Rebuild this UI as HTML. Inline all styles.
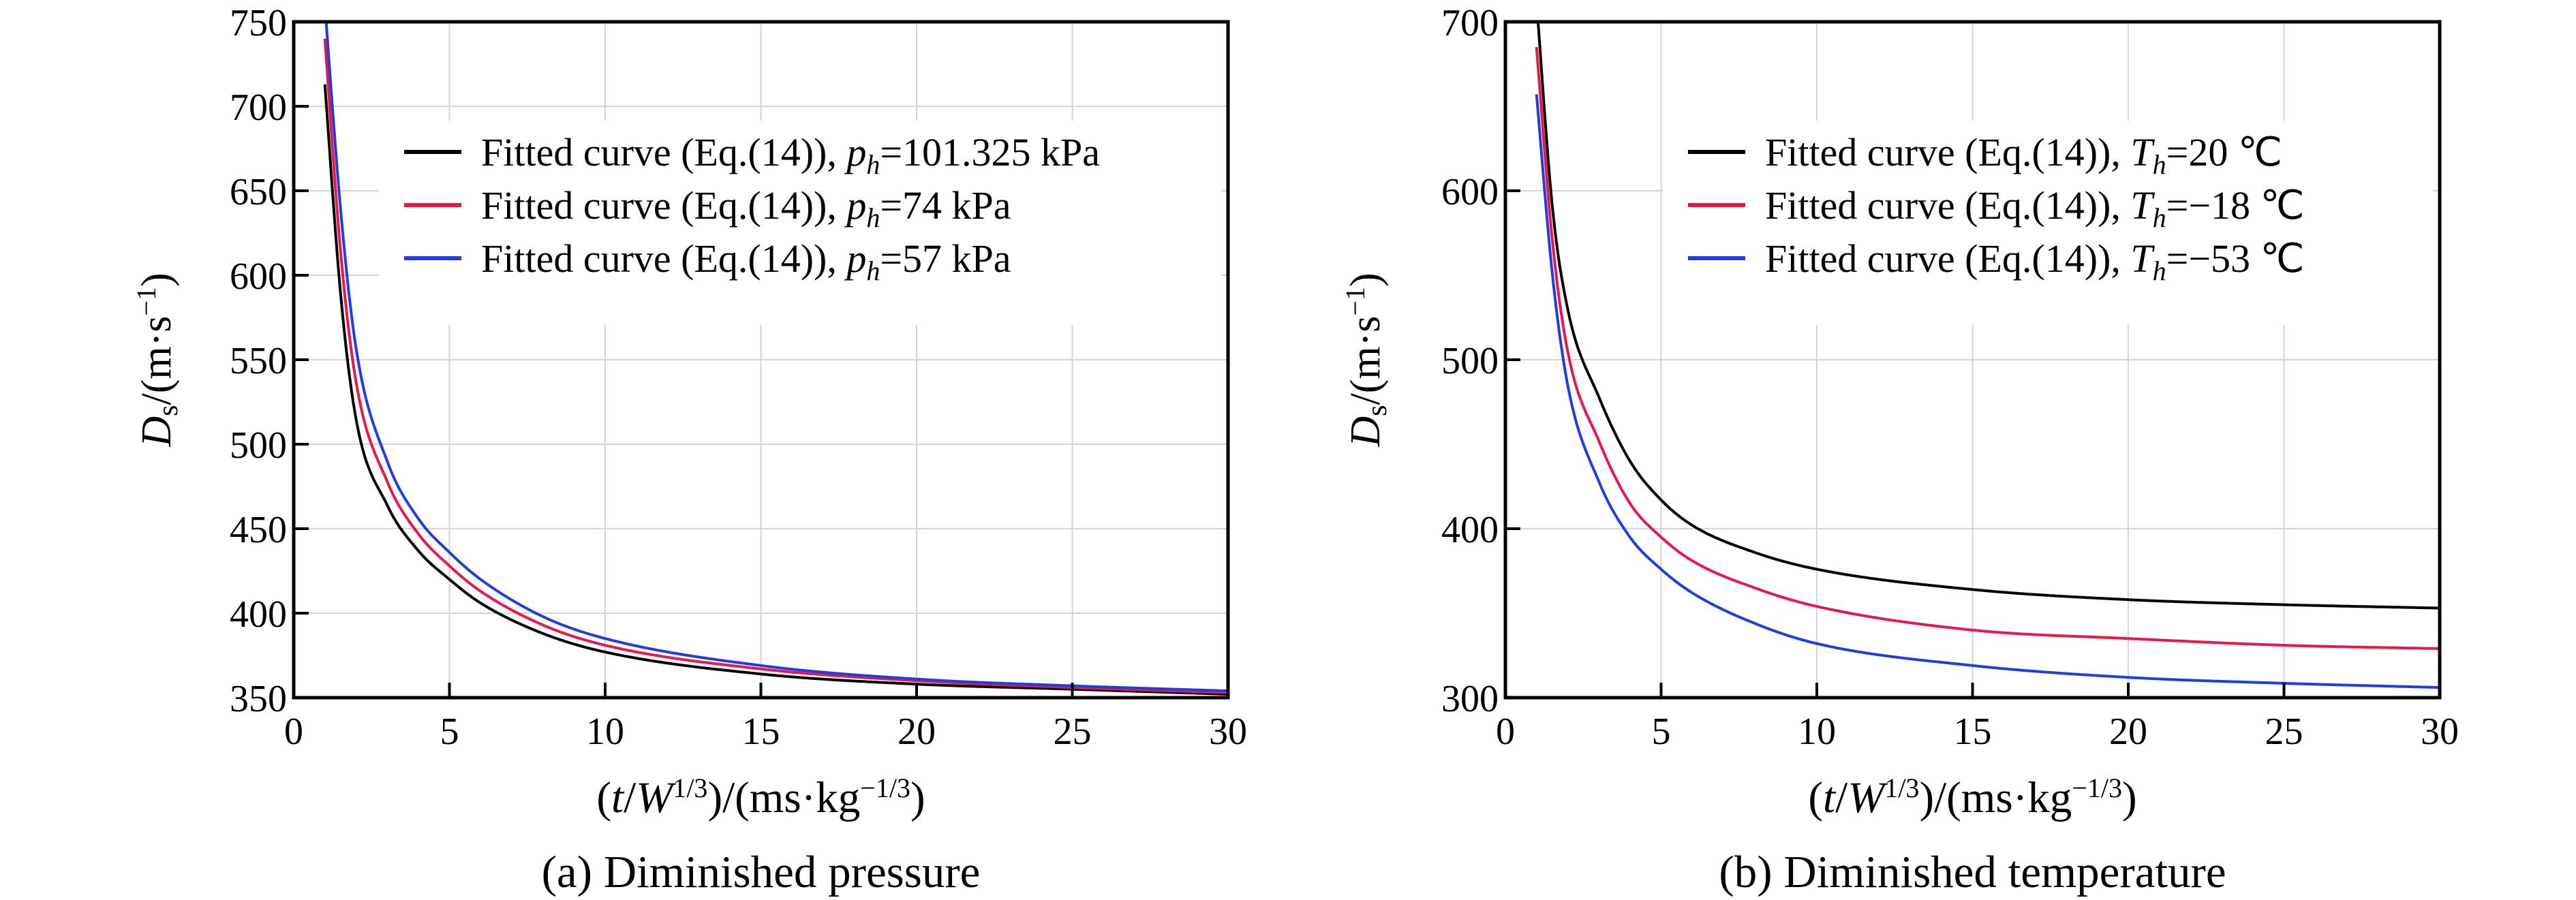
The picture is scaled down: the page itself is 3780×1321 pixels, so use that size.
<!DOCTYPE html>
<html><head><meta charset="utf-8">
<style>
html,body{margin:0;padding:0;background:#fff;}
svg{display:block;font-family:"Liberation Serif",serif;}
</style></head>
<body>
<svg id="fig" width="3780" height="1321" viewBox="0 0 3780 1321" xmlns="http://www.w3.org/2000/svg"></svg>
<script>
// ---- data ----
const xTicks = [0,5,10,15,20,25,30];
const yTicksA = [350,400,450,500,550,600,650,700,750];
const yTicksB = [300,400,500,600,700];
const xs = [1,1.5,2,3,4,5,6,8,10,15,20,25,30];
const pBlack = [713,590,515,464,437,420,406,388,377,364,358,355,352];
const pRed   = [740,615,537,478,447,428,413,393,381,367,360,356,353];
const pBlue  = [760,640,557,490,456,436,420,398,385,369,361,357,354];
const tBlack = [712,592,530,478,440,417,402,386,376,364,358,355,353];
const tRed   = [685,572,505,452,415,395,381,365,354,340,335,331,329];
const tBlue  = [657,552,485,428,395,376,362,344,332,319,312,308.5,306];
const legendA = ["=101.325 kPa","=74 kPa","=57 kPa"];
const legendB = ["=20 ℃","=\u221218 ℃","=\u221253 ℃"];
const colors = ["#000000","#e8194a","#1f3de0"];

const NS="http://www.w3.org/2000/svg";
const svg=document.getElementById('fig');
function el(tag,attrs,parent){const e=document.createElementNS(NS,tag);for(const k in attrs)e.setAttribute(k,attrs[k]);(parent||svg).appendChild(e);return e;}

// monotone cubic (Fritsch-Carlson) evaluator
function monotone(X,Y){
  const n=X.length,d=[],m=new Array(n);
  for(let i=0;i<n-1;i++)d.push((Y[i+1]-Y[i])/(X[i+1]-X[i]));
  m[0]=d[0];m[n-1]=d[n-2];
  for(let i=1;i<n-1;i++){m[i]=(d[i-1]*d[i]<=0)?0:(d[i-1]+d[i])/2;}
  for(let i=0;i<n-1;i++){
    if(d[i]===0){m[i]=0;m[i+1]=0;continue;}
    const a=m[i]/d[i],b=m[i+1]/d[i],s=a*a+b*b;
    if(s>9){const t=3/Math.sqrt(s);m[i]=t*a*d[i];m[i+1]=t*b*d[i];}
  }
  return x=>{
    let i=0;while(i<n-2&&x>X[i+1])i++;
    const h=X[i+1]-X[i],t=(x-X[i])/h,t2=t*t,t3=t2*t;
    return (2*t3-3*t2+1)*Y[i]+(t3-2*t2+t)*h*m[i]+(-2*t3+3*t2)*Y[i+1]+(t3-t2)*h*m[i+1];
  };
}

function panel(id,L,R,T,B,ymin,ymax,yTicks,series,legendVals,legSym,caption,ytitleX,legX){
  const g=el('g',{});
  
  
  const sx=v=>L+(v-0)/(30-0)*(R-L);
  const sy=v=>B-(v-ymin)/(ymax-ymin)*(B-T);
  xTicks.forEach(t=>{if(t>0&&t<30){const l=el('line',{x1:sx(t),x2:sx(t),y1:T,y2:B,stroke:'#d4d4d4','stroke-width':2},g);}});
  yTicks.forEach(t=>{if(t>ymin&&t<ymax){const l=el('line',{x1:L,x2:R,y1:sy(t),y2:sy(t),stroke:'#d4d4d4','stroke-width':2},g);}});
  const lb=el('rect',{x:legX-150,y:T+145,width:R-legX+140,height:300,fill:'#fff'},g);
  
  const cp=el('clipPath',{id:id+'-clip'},g);el('rect',{x:L,y:T,width:R-L,height:B-T},cp);
  series.forEach((ys,i)=>{
    const f=monotone(xs,ys);
    let d='';
    for(let k=0;k<=600;k++){
      const x=xs[0]+(xs[xs.length-1]-xs[0])*k/600;
      d+=(k?' L':'M')+sx(x).toFixed(1)+','+sy(f(x)).toFixed(1);
    }
    const p=el('path',{d:d,fill:'none',stroke:colors[i],'stroke-width':4,'clip-path':'url(#'+id+'-clip)'},g);
    
    
  });
  const fr=el('rect',{x:L,y:T,width:R-L,height:B-T,fill:'none',stroke:'#000','stroke-width':5},g);
  
  xTicks.forEach(t=>{
    const tk=el('line',{x1:sx(t),x2:sx(t),y1:B,y2:B-22,stroke:'#000','stroke-width':4},g);
    
    const tx=el('text',{x:sx(t),y:B+68,'font-size':56,'text-anchor':'middle'},g);tx.textContent=t;
    
  });
  yTicks.forEach(t=>{
    const tk=el('line',{x1:L,x2:L+22,y1:sy(t),y2:sy(t),stroke:'#000','stroke-width':4},g);
    
    const tx=el('text',{x:L-10,y:sy(t)+20,'font-size':56,'text-anchor':'end'},g);tx.textContent=t;
    
  });
  legendVals.forEach((v,i)=>{
    const y=T+191+i*78;
    const ln=el('line',{x1:legX-113,x2:legX-29,y1:y,y2:y,stroke:colors[i],'stroke-width':6},g);
    
    const tx=el('text',{x:legX,y:y+20,'font-size':58},g);
    
    tx.innerHTML='Fitted curve (Eq.(14)), <tspan font-style="italic">'+legSym+'</tspan><tspan font-style="italic" font-size="40" dy="12">h</tspan><tspan dy="-12">'+v+'</tspan>';
  });
  const xt=el('text',{x:(L+R)/2,y:1192,'font-size':65,'text-anchor':'middle'},g);
  
  xt.innerHTML='(<tspan font-style="italic">t</tspan>/<tspan font-style="italic">W</tspan><tspan font-size="40" dy="-22">1/3</tspan><tspan dy="22">)/(ms·kg</tspan><tspan font-size="40" dy="-22">−1/3</tspan><tspan dy="22">)</tspan>';
  const yt=el('text',{x:0,y:0,'font-size':62,'text-anchor':'middle',transform:'translate('+ytitleX+','+(T+B)/2+') rotate(-90)'},g);
  
  yt.innerHTML='<tspan font-style="italic">D</tspan><tspan font-size="42" dy="10">s</tspan><tspan dy="-10">/(m·s</tspan><tspan font-size="40" dy="-22">−1</tspan><tspan dy="22">)</tspan>';
  const cap=el('text',{x:(L+R)/2,y:1302,'font-size':67,'text-anchor':'middle'},g);
  
  cap.textContent=caption;
}
panel('panel-pressure',431,1802,32,1024,350,750,yTicksA,[pBlack,pRed,pBlue],legendA,'p','(a) Diminished pressure',250,706);
panel('panel-temperature',2209,3580,32,1024,300,700,yTicksB,[tBlack,tRed,tBlue],legendB,'T','(b) Diminished temperature',2024,2590);
</script>
</body></html>
